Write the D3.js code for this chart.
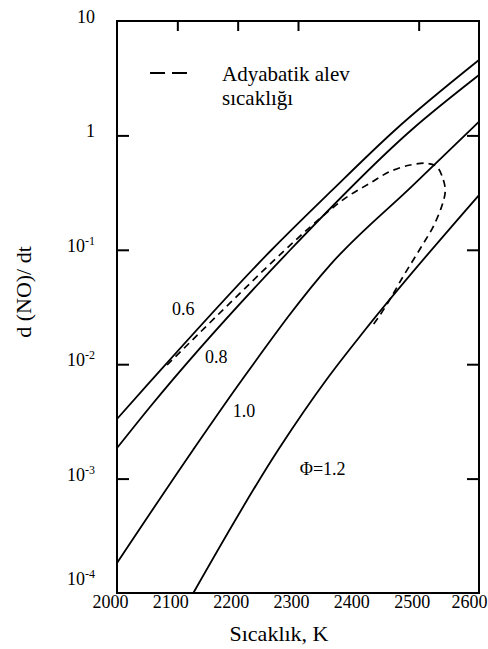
<!DOCTYPE html>
<html><head><meta charset="utf-8">
<script src="https://cdn.jsdelivr.net/npm/d3@7"></script>
<style>
html,body{margin:0;padding:0;background:#fff;}
svg{display:block;font-family:"Liberation Serif","Times New Roman",serif;}
svg text{font-family:"Liberation Serif","Times New Roman",serif;}
</style></head>
<body>
<svg id="chart" width="488" height="649"></svg>
<script>
// ---- data ----
const xTickValues = [2000, 2100, 2200, 2300, 2400, 2500, 2600];
const topTickValues = [2100, 2200, 2300, 2500];
const yTickValues = [10, 1, 0.1, 0.01, 0.001, 0.0001];
const yTickBase = ["10", "1", "10", "10", "10", "10"];
const yTickExp = ["", "", "-1", "-2", "-3", "-4"];
const sideTickValues = [1, 0.1, 0.01, 0.001];

const phi06T = [2000, 2055, 2256, 2354, 2461, 2600];
const phi06V = [0.00332, 0.00703, 0.0996, 0.322, 1.115, 4.56];
const phi08T = [2000, 2055, 2287, 2488, 2600];
const phi08V = [0.00185, 0.00425, 0.0996, 1.115, 3.37];
const phi10T = [2000, 2126, 2207, 2353, 2490, 2600];
const phi10V = [0.000183, 0.00178, 0.00728, 0.0736, 0.364, 1.32];
const phi12T = [2126.5, 2267, 2348, 2411, 2600];
const phi12V = [0.0001, 0.00178, 0.00743, 0.0199, 0.301];

const adiabaticT = [2083, 2273, 2353, 2386, 2419, 2452, 2486, 2513, 2530, 2541, 2544, 2538, 2524, 2508, 2491, 2474, 2455, 2436, 2424];
const adiabaticV = [0.00984, 0.0937, 0.2228, 0.301, 0.381, 0.482, 0.551, 0.570, 0.532, 0.407, 0.322, 0.238, 0.159, 0.114, 0.0815, 0.0582, 0.0389, 0.0269, 0.022];

const curveLabels = ["0.6", "0.8", "1.0", "\u03A6=1.2"];
const curveLabelT = [2091, 2146, 2192, 2303];
const curveLabelV = [0.0269, 0.0102, 0.00345, 0.00107];

// ---- layout ----
const svg = d3.select("#chart");
const L = 117, R = 479, T = 21, B = 593;
const x = d3.scaleLinear().domain([2000, 2600]).range([L, R]);
const y = d3.scaleLog().domain([0.0001, 10]).range([B, T]);

const line = d3.line().x(d => x(d[0])).y(d => y(d[1])).curve(d3.curveMonotoneX);
const zip = (a, b) => a.map((v, i) => [v, b[i]]);

const curves = [zip(phi06T, phi06V), zip(phi08T, phi08V), zip(phi10T, phi10V), zip(phi12T, phi12V)];
svg.append("g").selectAll("path").data(curves).join("path")
  .attr("d", line).attr("fill", "none").attr("stroke", "#000").attr("stroke-width", 1.8);

const dashLine = d3.line().x(d => x(d[0])).y(d => y(d[1])).curve(d3.curveCatmullRom.alpha(0.5));
svg.append("path").datum(zip(adiabaticT, adiabaticV))
  .attr("d", dashLine).attr("fill", "none").attr("stroke", "#000")
  .attr("stroke-width", 1.7).attr("stroke-dasharray", "7,5");

// frame
svg.append("rect").attr("x", L).attr("y", T).attr("width", R - L).attr("height", B - T)
  .attr("fill", "none").attr("stroke", "#000").attr("stroke-width", 2);

// top ticks
const topAxis = svg.append("g").attr("transform", `translate(0,${T})`)
  .call(d3.axisTop(x).tickValues(topTickValues).tickSize(-10).tickFormat(""));
topAxis.select(".domain").remove();
topAxis.selectAll("line").attr("stroke-width", 2);

// left / right ticks
const leftAxis = svg.append("g").attr("transform", `translate(${L},0)`)
  .call(d3.axisLeft(y).tickValues(sideTickValues).tickSize(-12).tickFormat(""));
leftAxis.select(".domain").remove();
leftAxis.selectAll("line").attr("stroke-width", 2);
const rightAxis = svg.append("g").attr("transform", `translate(${R},0)`)
  .call(d3.axisRight(y).tickValues(sideTickValues).tickSize(-12).tickFormat(""));
rightAxis.select(".domain").remove();
rightAxis.selectAll("line").attr("stroke-width", 2);

// bottom labels
const bottomAxis = svg.append("g").attr("transform", `translate(0,${B})`)
  .call(d3.axisBottom(x).tickValues(xTickValues).tickSize(0).tickPadding(0).tickFormat(d3.format("d")));
bottomAxis.select(".domain").remove();
bottomAxis.attr("font-family", "Liberation Serif");
bottomAxis.selectAll("text").attr("font-size", 18).attr("font-family", "Liberation Serif")
  .attr("fill", "#000").attr("dx", (d, i) => i === xTickValues.length - 1 ? -10 : -7)
  .attr("y", 15).attr("dy", 0);

// y labels
const yl = svg.append("g");
yTickValues.forEach((v, i) => {
  const t = yl.append("text").attr("x", 95)
    .attr("y", y(v) + (i === yTickValues.length - 1 ? -8 : 2))
    .attr("text-anchor", "end").attr("font-size", 18).attr("fill", "#000");
  t.append("tspan").text(yTickBase[i]);
  if (yTickExp[i]) t.append("tspan").attr("font-size", 12).attr("dy", -7).text(yTickExp[i]);
});

// axis titles
svg.append("text").attr("x", 279).attr("y", 641).attr("text-anchor", "middle")
  .attr("font-size", 22).text("Sıcaklık, K");
svg.append("text").attr("transform", "translate(31,292) rotate(-90)").attr("text-anchor", "middle")
  .attr("font-size", 22).text("d (NO)/ dt");

// curve labels
svg.append("g").selectAll("text").data(curveLabels).join("text")
  .attr("x", (d, i) => x(curveLabelT[i])).attr("y", (d, i) => y(curveLabelV[i]))
  .attr("font-size", 18).text(d => d);

// legend
svg.append("line").attr("x1", 150).attr("x2", 187).attr("y1", 73).attr("y2", 73)
  .attr("stroke", "#000").attr("stroke-width", 2).attr("stroke-dasharray", "15,7");
svg.append("text").attr("x", 222).attr("y", 81).attr("font-size", 21).text("Adyabatik alev");
svg.append("text").attr("x", 222).attr("y", 105).attr("font-size", 21).text("sıcaklığı");
</script>
</body></html>
